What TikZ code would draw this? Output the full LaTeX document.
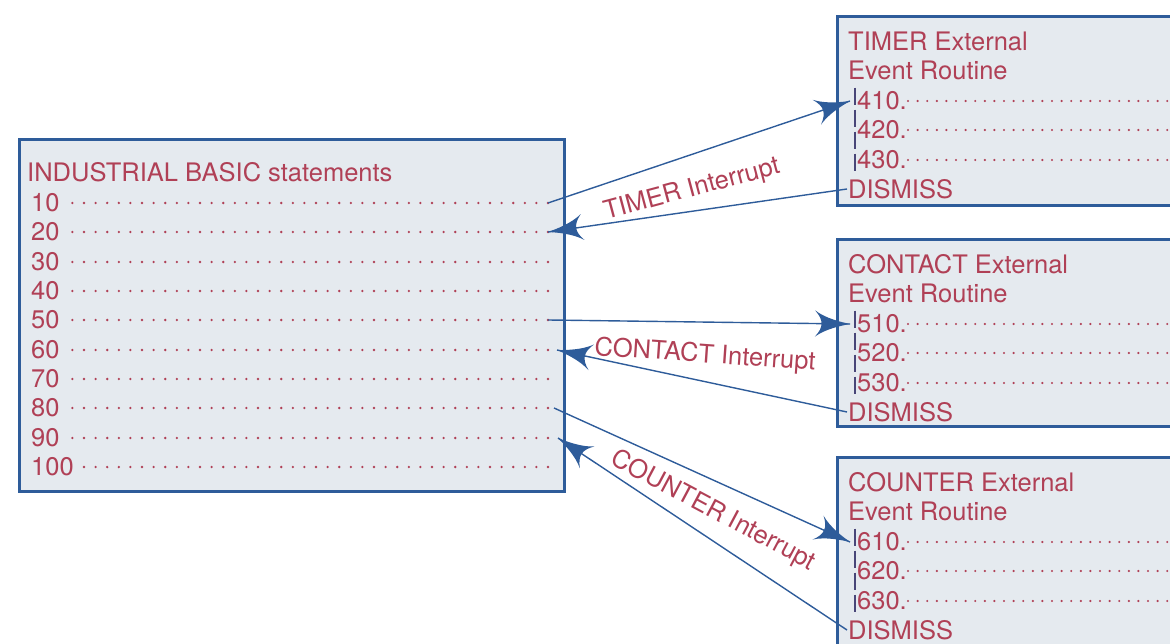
\documentclass[tikz,border=0pt]{standalone}
\usepackage{fontspec}
\setmainfont{TeX Gyre Heros}
\usetikzlibrary{arrows}
\usetikzlibrary{decorations.markings}
\usetikzlibrary{positioning}
\definecolor{tred}{RGB}{176,64,86}
\definecolor{lblue}{RGB}{46,92,154}
\definecolor{boxgray}{RGB}{229,234,239}
\definecolor{barblue}{RGB}{72,70,120}
\tikzset{irq/.style = {draw=lblue, line width=1.4pt,
                       decoration={markings,
                                   mark=at position 1 with {\arrow[scale=5]{latex'}}},
                       postaction={decorate}}}
\tikzset{listbox/.style = {draw=lblue, line width=2.8pt, fill=boxgray,
                           anchor=north west, inner sep=0pt}}
\tikzset{ltxt/.style = {text=tred, anchor=west, inner sep=0pt,
                        font=\fontsize{25.5}{30}\selectfont}}
\tikzset{leader/.style = {draw=tred, line width=2.6pt, line cap=round,
                          dash pattern=on 0pt off 11.6pt}}
\tikzset{rleader/.style = {leader, line width=2.4pt, dash pattern=on 0pt off 9.6pt}}
\tikzset{cursor/.style = {draw=barblue, line width=2.6pt, dash pattern=on 17pt off 5pt}}

\begin{document}
\begin{tikzpicture}[x=1pt, y=-1pt]
    \useasboundingbox (0, 0) rectangle (1170, 644);
    \clip (0, 0) rectangle (1170, 644);
    \node [listbox, minimum width=545pt, minimum height=352pt] (main) at (18, 138) {};
    \node [ltxt] (title) at (27, 172) {INDUSTRIAL BASIC statements};
    \foreach \n/\y in {10/203, 20/232, 30/262, 40/291, 50/320, 60/350, 70/379, 80/408, 90/438, 100/467} {
      \node [ltxt] (l\n) at (31, \y) {\n};
      \coordinate (d\n) at (548, \y);
      \draw [leader] (d\n) -- ([xshift=9pt]l\n.east);
    }
    \foreach \nm/\ty/\h/\k in {TIMER/15/189/4, CONTACT/238/187/5, COUNTER/456/260/6} {
      \node [listbox, minimum width=420pt, minimum height=\h pt] (box\k) at (836, \ty) {};
      \node [ltxt] (h\k) at (848, \ty+26) {\nm\ External};
      \node [ltxt] (ev\k) at (848, \ty+55) {Event Routine};
      \foreach \r/\dy in {10/86, 20/115, 30/145} {
        \node [ltxt, inner xsep=7pt] (r\k\r) at (850, \ty+\dy) {\k\r.};
        \draw [rleader] ([xshift=-6pt]r\k\r.east) -- (1180, \ty+\dy);
      }
      \node [ltxt, inner xsep=1pt] (dis\k) at (847, \ty+174) {DISMISS};
      \draw [cursor] ([xshift=5pt, yshift=4pt]r\k10.north west) -- ([xshift=5pt, yshift=-3pt]r\k30.south west);
    }
    \draw [irq] (d10) -- (r410.west);
    \draw [irq] (dis4.west) -- (d20);
    \draw [irq] (d50) -- (r510.west);
    \draw [irq] (dis5.west) -- ([xshift=9pt]d60);
    \draw [irq] ([xshift=6pt]d80) -- (r610.west);
    \draw [irq] (dis6.west) -- ([xshift=10pt]d90);
    \node [ltxt, anchor=center, rotate=15] (tlab) at (692, 190) {TIMER Interrupt};
    \node [ltxt, anchor=center, rotate=-4] (clab) at (705, 356) {CONTACT Interrupt};
    \node [ltxt, anchor=center, rotate=-28] (klab) at (713, 511) {COUNTER Interrupt};
  \end{tikzpicture}
\end{document}
